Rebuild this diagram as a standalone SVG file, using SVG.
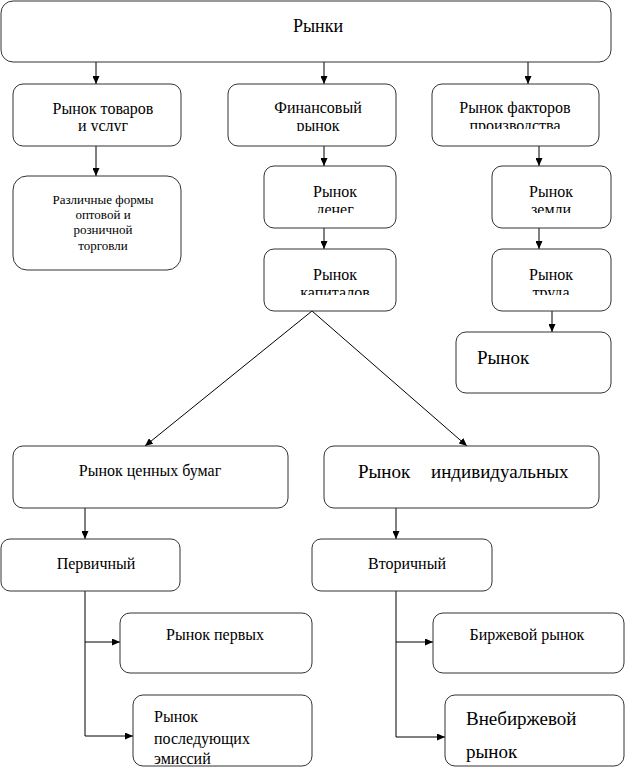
<svg xmlns="http://www.w3.org/2000/svg" width="625" height="769" viewBox="0 0 625 769">
<style>
.box{fill:#fff;stroke:#333;stroke-width:1}
.t{font-family:"Liberation Serif","Times New Roman",serif;font-size:16px;fill:#000}
.c{text-anchor:middle}
.s{font-size:13px}
.b{font-size:19px}
.h{font-size:18px}
.ln{fill:none;stroke:#000;stroke-width:1}
</style>
<defs>
<marker id="ah" markerWidth="8" markerHeight="7" refX="8" refY="3.5" orient="auto" markerUnits="userSpaceOnUse">
<path d="M0,0 L8,3.5 L0,7 z" fill="#000"/>
</marker>
<clipPath id="c1"><rect x="0" y="0" width="625" height="131"/></clipPath>
<clipPath id="c2"><rect x="0" y="0" width="625" height="129"/></clipPath>
<clipPath id="c3"><rect x="0" y="0" width="625" height="213"/></clipPath>
<clipPath id="c4"><rect x="0" y="0" width="625" height="295"/></clipPath>
</defs>

<g id="connectors">
<line class="ln" x1="96" y1="62" x2="96" y2="84" marker-end="url(#ah)"/>
<line class="ln" x1="324" y1="62" x2="324" y2="84" marker-end="url(#ah)"/>
<line class="ln" x1="528" y1="62" x2="528" y2="84" marker-end="url(#ah)"/>
<line class="ln" x1="96" y1="146" x2="96" y2="176" marker-end="url(#ah)"/>
<line class="ln" x1="324" y1="146" x2="324" y2="166" marker-end="url(#ah)"/>
<line class="ln" x1="324" y1="228" x2="324" y2="249" marker-end="url(#ah)"/>
<line class="ln" x1="539" y1="146" x2="539" y2="166" marker-end="url(#ah)"/>
<line class="ln" x1="539" y1="228" x2="539" y2="249" marker-end="url(#ah)"/>
<line class="ln" x1="552" y1="311" x2="552" y2="332" marker-end="url(#ah)"/>
<line class="ln" x1="312" y1="311" x2="145" y2="446" marker-end="url(#ah)"/>
<line class="ln" x1="312" y1="311" x2="467" y2="446" marker-end="url(#ah)"/>
<line class="ln" x1="85" y1="508" x2="85" y2="539" marker-end="url(#ah)"/>
<line class="ln" x1="396" y1="508" x2="396" y2="539" marker-end="url(#ah)"/>
<path class="ln" d="M85,591 V736"/>
<line class="ln" x1="85" y1="642" x2="120" y2="642" marker-end="url(#ah)"/>
<line class="ln" x1="85" y1="736" x2="133" y2="736" marker-end="url(#ah)"/>
<path class="ln" d="M396,591 V737"/>
<line class="ln" x1="396" y1="642" x2="433" y2="642" marker-end="url(#ah)"/>
<line class="ln" x1="396" y1="737" x2="445" y2="737" marker-end="url(#ah)"/>
</g>

<g id="rynki">
<rect class="box" x="1" y="1" width="610" height="61" rx="12"/>
<text class="t c h" x="318" y="32">Рынки</text>
</g>
<g id="tovary">
<rect class="box" x="13" y="84" width="168" height="62" rx="10"/>
<text class="t c" x="103" y="114">Рынок товаров</text>
<text class="t c" x="103" y="131" clip-path="url(#c1)">и услуг</text>
</g>
<g id="finansovy">
<rect class="box" x="228" y="84" width="168" height="62" rx="10"/>
<text class="t c" x="318" y="113">Финансовый</text>
<text class="t c" x="318" y="131" clip-path="url(#c1)">рынок</text>
</g>
<g id="faktory">
<rect class="box" x="432" y="84" width="167" height="62" rx="10"/>
<text class="t c" x="515" y="113">Рынок факторов</text>
<text class="t c" x="515" y="131" clip-path="url(#c2)">производства</text>
</g>
<g id="razlichnye">
<rect class="box" x="13" y="176" width="168" height="94" rx="14"/>
<text class="t c s" x="103" y="204">Различные формы</text>
<text class="t c s" x="103" y="219">оптовой и</text>
<text class="t c s" x="103" y="234">розничной</text>
<text class="t c s" x="103" y="250">торговли</text>
</g>
<g id="dengi">
<rect class="box" x="264" y="166" width="132" height="62" rx="10"/>
<text class="t c" x="335" y="197">Рынок</text>
<text class="t c" x="335" y="215" clip-path="url(#c3)">денег</text>
</g>
<g id="kapitaly">
<rect class="box" x="264" y="249" width="132" height="62" rx="10"/>
<text class="t c" x="335" y="280">Рынок</text>
<text class="t c" x="335" y="298" clip-path="url(#c4)">капиталов</text>
</g>
<g id="zemlya">
<rect class="box" x="492" y="166" width="119" height="62" rx="10"/>
<text class="t c" x="551" y="197">Рынок</text>
<text class="t c" x="551" y="215" clip-path="url(#c3)">земли</text>
</g>
<g id="trud">
<rect class="box" x="492" y="249" width="119" height="62" rx="10"/>
<text class="t c" x="551" y="280">Рынок</text>
<text class="t c" x="551" y="298" clip-path="url(#c4)">труда</text>
</g>
<g id="rynok">
<rect class="box" x="456" y="332" width="155" height="61" rx="10"/>
<text class="t b" x="477" y="364">Рынок</text>
</g>
<g id="cennye-bumagi">
<rect class="box" x="13" y="446" width="275" height="62" rx="10"/>
<text class="t c" x="150" y="476">Рынок ценных бумаг</text>
</g>
<g id="individualnye">
<rect class="box" x="324" y="446" width="275" height="62" rx="10"/>
<text class="t b" y="478"><tspan x="358">Рынок</tspan><tspan x="431">индивидуальных</tspan></text>
</g>
<g id="pervichny">
<rect class="box" x="1" y="539" width="179" height="52" rx="9"/>
<text class="t c" x="96" y="569">Первичный</text>
</g>
<g id="vtorichny">
<rect class="box" x="312" y="539" width="180" height="52" rx="9"/>
<text class="t c" x="407" y="569">Вторичный</text>
</g>
<g id="pervye">
<rect class="box" x="120" y="613" width="192" height="60" rx="10"/>
<text class="t c" x="215" y="640">Рынок первых</text>
</g>
<g id="posleduyushchie">
<rect class="box" x="133" y="695" width="179" height="71" rx="10"/>
<text class="t" x="154" y="722">Рынок</text>
<text class="t" x="154" y="744">последующих</text>
<text class="t" x="154" y="764">эмиссий</text>
</g>
<g id="birzhevoy">
<rect class="box" x="433" y="613" width="191" height="60" rx="10"/>
<text class="t c" x="527" y="640">Биржевой рынок</text>
</g>
<g id="vnebirzhevoy">
<rect class="box" x="445" y="695" width="179" height="71" rx="10"/>
<text class="t b" x="466" y="725">Внебиржевой</text>
<text class="t b" x="466" y="758">рынок</text>
</g>
</svg>
